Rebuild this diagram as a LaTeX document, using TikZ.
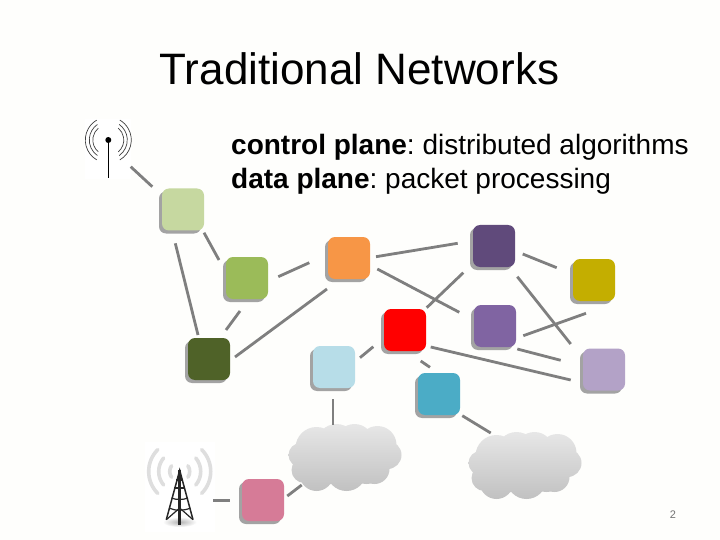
\documentclass[tikz,border=0pt]{standalone}
\usepackage{fontspec}
\setmainfont{Liberation Sans}
\usetikzlibrary{shadows}
\frenchspacing
\definecolor{pagebg}{HTML}{FEFEFC}
\definecolor{linkgray}{HTML}{7F7F7F}
\definecolor{shadowgray}{HTML}{A3A3A3}
\definecolor{swlight}{HTML}{C6D8A0}
\definecolor{swgreen}{HTML}{9BBB59}
\definecolor{swdark}{HTML}{4F6228}
\definecolor{sworange}{HTML}{F79646}
\definecolor{swblue}{HTML}{B7DDE8}
\definecolor{swteal}{HTML}{4BACC6}
\definecolor{swplum}{HTML}{604A7B}
\definecolor{swpurple}{HTML}{8064A2}
\definecolor{swgold}{HTML}{C4AE00}
\definecolor{swlav}{HTML}{B3A2C7}
\definecolor{swpink}{HTML}{D67B97}
\tikzset{
  sw/.style={fill=#1, draw=none, rounded corners=7pt, minimum size=42pt, inner sep=0pt, outer sep=0pt,
    drop shadow={shadow xshift=-3pt, shadow yshift=-3pt, fill=shadowgray, opacity=1}},
  link/.style={line width=2.8pt, color=linkgray},
  blank/.style={fill=white, inner sep=0pt, outer sep=0pt},
  ghost/.style={inner sep=0pt, outer sep=0pt, minimum width=113pt, minimum height=68pt},
  wave/.style={line width=0.7pt, color=black!75},
  mast/.style={line width=1.2pt, color=black!85},
  ring/.style={line width=3.6pt, color=black!13, line cap=round}
}
% one lobed cloud, centred on the origin of the scope
\newcommand{\cloudlobes}{
  \clip (-28,-10) circle (21) (-8,-14) circle (20) (10,-15) circle (19) (33,-13) circle (19)
    (43,-3) circle (14) (30,11) circle (15) (2,13) circle (20) (-28,16) circle (17)
    (-44,-3) circle (12) (-40,12) circle (13) (0,0) circle (28) (-20,3) circle (24) (22,2) circle (24);
  \shade[top color=black!9, bottom color=black!25] (-60,-36) rectangle (60,36);
}
\begin{document}
\begin{tikzpicture}[x=1pt, y=-1pt]
  \path[use as bounding box, fill=pagebg] (0,0) rectangle (720,540);

  \node[anchor=base west, inner sep=0pt, font=\fontsize{44}{48}\selectfont] (title) at (159.5,84.5) {Traditional Networks};
  \node[anchor=base west, inner sep=0pt, font=\fontsize{28}{32}\selectfont] (ctrl) at (231,155) {\textbf{control plane}: distributed algorithms};
  \node[anchor=base west, inner sep=0pt, font=\fontsize{28}{32}\selectfont] (data) at (231,189) {\textbf{data plane}: packet processing};
  \node[anchor=base, inner sep=0pt, text=black!55, font=\fontsize{11}{13}\selectfont] (page) at (673,518) {2};

  % antenna
  \node[blank, minimum width=46pt, minimum height=60pt] (wifi) at (108,149) {};
  \draw[line width=1.6pt] (108.3,140) -- (108.3,177.7);
  \fill (108.3,140) circle (3);
  \draw[wave] (108.3,140) ++(120:23) arc (120:240:23);
  \draw[wave] (108.3,140) ++(125:19) arc (125:235:19);
  \draw[wave] (108.3,140) ++(130:15.5) arc (130:230:15.5);
  \draw[wave] (108.3,140) ++(60:23) arc (60:-60:23);
  \draw[wave] (108.3,140) ++(55:19) arc (55:-55:19);
  \draw[wave] (108.3,140) ++(50:15.5) arc (50:-50:15.5);

  % tower
  \node[blank, minimum width=70pt, minimum height=90pt] (tower) at (180,487) {};
  \draw[ring] (179.7,471.5) ++(135:31) arc (135:225:31);
  \draw[ring] (179.7,471.5) ++(140:21) arc (140:220:21);
  \draw[ring] (179.7,471.5) ++(145:10) arc (145:215:10);
  \draw[ring] (179.7,471.5) ++(45:31) arc (45:-45:31);
  \draw[ring] (179.7,471.5) ++(40:21) arc (40:-40:21);
  \draw[ring] (179.7,471.5) ++(35:10) arc (35:-35:10);
  \shade[inner color=black!30, outer color=white] (179.7,522) ellipse (17 and 5);
  \draw[mast, line width=1.5pt] (166.3,519.7) -- (179.7,470.3) -- (193,519.7);
  \draw[mast, line width=2.6pt] (179.7,470.3) -- (179.7,525.3);
  \draw[mast] (176.2,480) -- (183.2,480);
  \draw[mast] (174,488) -- (185.4,488);
  \draw[mast] (171.5,498) .. controls (176,500) and (183,500) .. (187.9,498);
  \draw[mast] (169,508) .. controls (175,511) and (184,511) .. (190.4,508);
  \draw[mast] (166.3,519.7) -- (179.7,508) -- (193,519.7);

  \node[ghost] (cloudA) at (344.5,458) {};
  \node[ghost] (cloudB) at (524.5,466) {};
  \begin{scope}[shift={(344.5,458)}]
    \cloudlobes
  \end{scope}
  \begin{scope}[shift={(524.5,466)}]
    \cloudlobes
  \end{scope}

  \node[sw=swlight] (swLight) at (183,209.5) {};
  \node[sw=swgreen] (swGreen) at (247,278) {};
  \node[sw=swdark] (swDark) at (209,359) {};
  \node[sw=sworange] (swOrange) at (349,258) {};
  \node[sw=swblue] (swBlue) at (334,367) {};
  \node[sw=red] (swRed) at (405,330) {};
  \node[sw=swteal] (swTeal) at (439,394) {};
  \node[sw=swplum] (swPlum) at (494,246) {};
  \node[sw=swpurple] (swPurple) at (495,326) {};
  \node[sw=swgold] (swGold) at (594,280) {};
  \node[sw=swlav] (swLav) at (604,369.5) {};
  \node[sw=swpink] (swPink) at (263,500) {};

  \draw[link] ([shift={(22.7,17.7)}]wifi.center) -- ([shift={(-30.7,-22.8)}]swLight.center);
  \draw[link] ([shift={(21,23.2)}]swLight.center) -- ([shift={(-28,-18)}]swGreen.center);
  \draw[link] ([shift={(-7.7,33.8)}]swLight.center) -- ([shift={(-11,-24)}]swDark.center);
  \draw[link] ([shift={(31.3,-1.3)}]swGreen.center) -- ([shift={(-39.7,4.7)}]swOrange.center);
  \draw[link] ([shift={(-7,33)}]swGreen.center) -- ([shift={(17,-29)}]swDark.center);
  \draw[link] ([shift={(26,-2)}]swDark.center) -- ([shift={(-22,31)}]swOrange.center);
  \draw[link] ([shift={(26,-9.3)}]swBlue.center) -- ([shift={(-31.7,16.7)}]swRed.center);
  \draw[link] ([shift={(27,-1.3)}]swOrange.center) -- ([shift={(-36.3,-2.7)}]swPlum.center);
  \draw[link] ([shift={(28.3,11)}]swOrange.center) -- ([shift={(-35.7,-13.7)}]swPurple.center);
  \draw[link] ([shift={(21.7,-22.3)}]swRed.center) -- ([shift={(-30.7,26.7)}]swPlum.center);
  \draw[link] ([shift={(28.7,8)}]swPlum.center) -- ([shift={(-37.3,-12.3)}]swGold.center);
  \draw[link] ([shift={(23.3,30.7)}]swPlum.center) -- ([shift={(-33.3,-25.5)}]swLav.center);
  \draw[link] ([shift={(28.3,9.7)}]swPurple.center) -- ([shift={(-8,33.3)}]swGold.center);
  \draw[link] ([shift={(22.3,23)}]swPurple.center) -- ([shift={(-43.3,-9.2)}]swLav.center);
  \draw[link] ([shift={(25.7,17)}]swRed.center) -- ([shift={(-33.3,10.5)}]swLav.center);
  \draw[link] ([shift={(15.7,31)}]swRed.center) -- ([shift={(-9,-26.7)}]swTeal.center);
  \draw[link] ([shift={(23.3,21.7)}]swTeal.center) -- ([shift={(-33.8,-33)}]cloudB.center);
  \draw[link] ([shift={(-1,32)}]swBlue.center) -- ([shift={(-11.5,-33)}]cloudA.center);
  \draw[link] ([shift={(24.3,-4)}]swPink.center) -- ([shift={(-42.8,27)}]cloudA.center);
  \draw[link] ([shift={(33.3,13.3)}]tower.center) -- ([shift={(-33,0.3)}]swPink.center);
\end{tikzpicture}
\end{document}
